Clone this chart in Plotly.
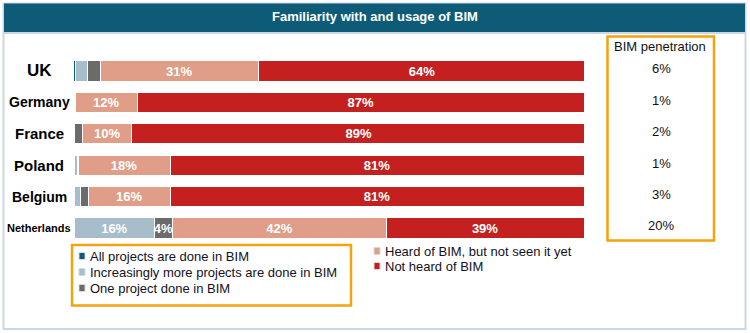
import plotly.graph_objects as go

# Survey shares per country (percent of respondents)
countries = ["UK", "Germany", "France", "Poland", "Belgium", "Netherlands"]
all_projects = [0.4, 0.2, 0.2, 0.3, 0.3, 0.3]
increasingly_more = [2.5, 0.2, 0.1, 0.6, 1.2, 15.6]
one_project = [2.4, 0.0, 1.6, 0.1, 1.5, 3.6]
heard_not_seen = [31, 12.2, 9.6, 18, 16, 41.8]
not_heard = [64, 87.4, 88.8, 81, 81, 38.7]
bim_penetration = [6, 1, 2, 1, 3, 20]

series_names = [
    "All projects are done in BIM",
    "Increasingly more projects are done in BIM",
    "One project done in BIM",
    "Heard of BIM, but not seen it yet",
    "Not heard of BIM",
]
series_values = [all_projects, increasingly_more, one_project, heard_not_seen, not_heard]
series_colors = ["#0e5a78", "#a7bdcc", "#6b6b6b", "#e09d88", "#c42020"]

W, H = 750, 333


def px_x(x):
    return x / W


def px_y(y):
    return 1 - y / H


fig = go.Figure()
for name, vals, color in zip(series_names, series_values, series_colors):
    labels = [f"{v:.0f}%" if v >= 3 else "" for v in vals]
    fig.add_trace(go.Bar(
        y=countries, x=vals, orientation="h", name=name,
        marker=dict(color=color, line=dict(color="white", width=1)),
        text=labels, textposition="inside", insidetextanchor="middle",
        textangle=0,
        textfont=dict(family="Arial, Liberation Sans", size=13, color="white", weight="bold"),
        showlegend=False, hoverinfo="skip",
    ))

fig.update_layout(
    width=W, height=H,
    barmode="stack", bargap=0.36,
    margin=dict(l=0, r=0, t=0, b=0),
    paper_bgcolor="white", plot_bgcolor="white",
    uniformtext=dict(minsize=13, mode="show"),
    xaxis=dict(domain=[px_x(73), px_x(584)], range=[0, 100], visible=False, fixedrange=True),
    yaxis=dict(domain=[px_y(243.7), px_y(55.3)], autorange="reversed",
               showticklabels=False, showgrid=False, zeroline=False, fixedrange=True),
    font=dict(family="Arial, Liberation Sans", color="#111111"),
)

shapes = []
annotations = []

# outer frame and title banner
shapes.append(dict(type="rect", xref="paper", yref="paper",
                   x0=px_x(3.5), x1=px_x(745.5), y0=px_y(329), y1=px_y(3.5),
                   line=dict(color="#cbd8e1", width=2), fillcolor="rgba(0,0,0,0)"))
shapes.append(dict(type="rect", xref="paper", yref="paper",
                   x0=px_x(4), x1=px_x(745), y0=px_y(32), y1=px_y(3),
                   line=dict(width=0), fillcolor="#0e5b78"))
shapes.append(dict(type="line", xref="paper", yref="paper",
                   x0=px_x(4), x1=px_x(745), y0=px_y(3.5), y1=px_y(3.5),
                   line=dict(color="#6d93a8", width=1)))
shapes.append(dict(type="line", xref="paper", yref="paper",
                   x0=px_x(4), x1=px_x(745), y0=px_y(33), y1=px_y(33),
                   line=dict(color="#cbd8e1", width=2)))
annotations.append(dict(text="Familiarity with and usage of BIM", xref="paper", yref="paper",
                        x=px_x(375), y=px_y(17), xanchor="center", yanchor="middle",
                        showarrow=False,
                        font=dict(family="Arial, Liberation Sans", size=13, color="white", weight="bold")))

# country labels
label_sizes = [17, 14, 15, 15, 14, 11]
for c, s in zip(countries, label_sizes):
    annotations.append(dict(text=f"<b>{c}</b>", xref="paper", yref="y", x=px_x(39), y=c,
                            xanchor="center", yanchor="middle", showarrow=False,
                            font=dict(size=s, color="#000000")))

# BIM penetration column
orange = "#f2a30f"
shapes.append(dict(type="rect", xref="paper", yref="paper",
                   x0=px_x(607.5), x1=px_x(714), y0=px_y(240.5), y1=px_y(36.5),
                   line=dict(color=orange, width=2.5), fillcolor="rgba(0,0,0,0)"))
annotations.append(dict(text="BIM penetration", xref="paper", yref="paper",
                        x=px_x(660), y=px_y(46.5), xanchor="center", yanchor="middle",
                        showarrow=False, font=dict(size=13, color="#111111")))
for c, p in zip(countries, bim_penetration):
    annotations.append(dict(text=f"{p}%", xref="paper", yref="y", x=px_x(661), y=c,
                            xanchor="center", yanchor="middle", yshift=2, showarrow=False,
                            font=dict(size=13, color="#111111")))

# legend
shapes.append(dict(type="rect", xref="paper", yref="paper",
                   x0=px_x(72), x1=px_x(351), y0=px_y(305.5), y1=px_y(245),
                   line=dict(color=orange, width=2.5), fillcolor="rgba(0,0,0,0)"))
legend_pos = [(79, 256), (79, 272), (79, 288), (374, 251), (374, 266)]
for name, color, (lx, ly) in zip(series_names, series_colors, legend_pos):
    shapes.append(dict(type="rect", xref="paper", yref="paper",
                       x0=px_x(lx), x1=px_x(lx + 6), y0=px_y(ly + 3.5), y1=px_y(ly - 3.5),
                       line=dict(color="#d8d8d8", width=1), fillcolor=color))
    annotations.append(dict(text=name, xref="paper", yref="paper", x=px_x(lx + 8.5), y=px_y(ly),
                            xanchor="left", yanchor="middle", showarrow=False,
                            font=dict(size=13, color="#111122")))

fig.update_layout(shapes=shapes, annotations=annotations)
fig.write_html("out.html")
